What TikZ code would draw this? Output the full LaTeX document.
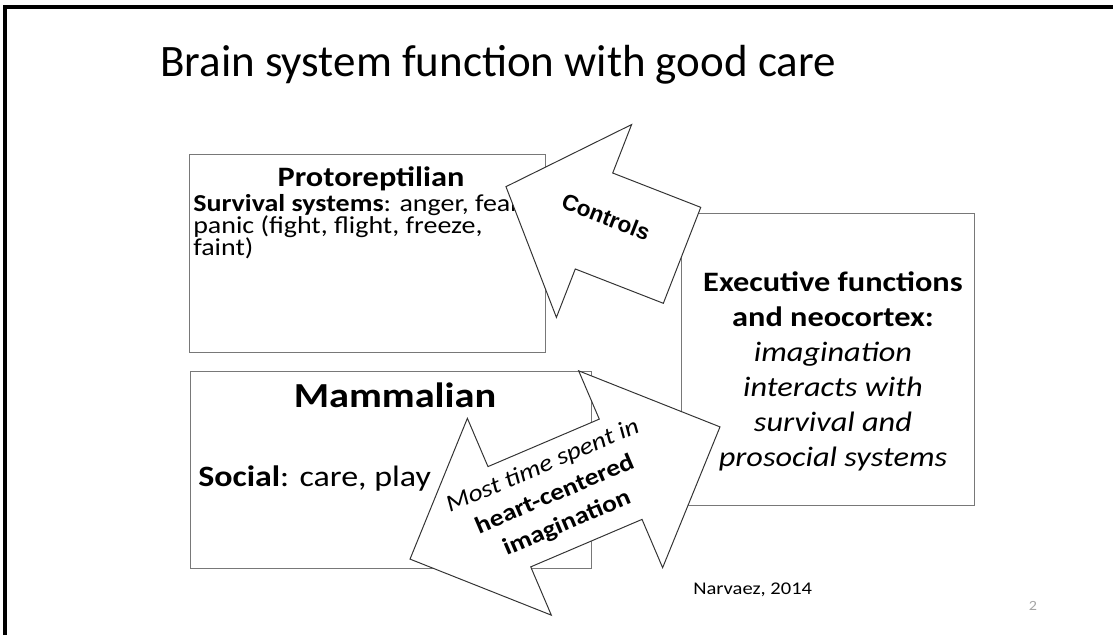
\documentclass[tikz,border=0pt]{standalone}
\usepackage{fontspec}
\setmainfont{Carlito}[FakeStretch=1.15]
\newfontfamily\titlefont{Carlito}
\newfontfamily\ctrlfont{Liberation Sans}
\definecolor{boxgray}{RGB}{120,120,120}
\definecolor{pagegray}{RGB}{165,165,165}

\begin{document}
\begin{tikzpicture}[
  box/.style={draw=boxgray, line width=0.7pt, inner sep=0pt},
  fatarrow/.style={draw=black!80, fill=white, line width=0.7pt, line join=miter},
  txt/.style={inner sep=0pt}]

\useasboundingbox (0,0) rectangle (27.825,15.875);

% ---------- Frame and title ----------
\draw[line width=2.5pt] (0.125,0) -- (0.125,15.7) -- (27.825,15.7);
\node[txt, anchor=base west, font=\titlefont\fontsize{32}{38}\selectfont] (title) at (4.0,13.95)
  {Brain system function with good care};

% ---------- Boxes ----------
\node[box, minimum width=8.9cm, minimum height=4.95cm] (proto) at (9.175,9.55) {};
\node[box, minimum width=10.025cm, minimum height=4.925cm] (mamm) at (9.7625,4.1375) {};
\node[box, minimum width=7.325cm, minimum height=7.3cm] (exec) at (20.6875,6.9) {};

% base anchor of a multi-line node sits on its last line
\node[txt, anchor=base, font=\fontsize{20}{24}\selectfont\bfseries] (protohead) at (9.275,11.2) {Protoreptilian};
\node[txt, anchor=base west, align=left, font=\fontsize{17.3}{16}\selectfont] (survival) at (4.825,9.475)
  {\textbf{Survival systems}: anger, fear,\\ panic (fight, flight, freeze,\\ faint)};

\node[txt, anchor=base, font=\fontsize{25}{30}\selectfont\bfseries] (mammhead) at (9.875,5.675) {Mammalian};
\node[txt, anchor=base west, font=\fontsize{21}{25}\selectfont] (social) at (4.95,3.7)
  {\textbf{Social}: care, play};

\node[txt, anchor=base, align=center, font=\fontsize{20}{24.9}\selectfont] (exectext) at (20.825,4.2)
  {\textbf{Executive functions}\\ \textbf{and neocortex:}\\ \textit{imagination}\\
   \textit{interacts with}\\ \textit{survival and}\\ \textit{prosocial systems}};

% ---------- Controls arrow ----------
\begin{scope}[shift={(14.85,10.35)}, rotate=158.7]
  \draw[fatarrow] (2.3625,0) -- (0,2.5875) -- (0,1.2875) -- (-2.3625,1.2875)
    -- (-2.3625,-1.2875) -- (0,-1.2875) -- (0,-2.5875) -- cycle;
\end{scope}
\node[txt, rotate=-21.3, font=\ctrlfont\fontsize{16}{19}\selectfont\bfseries] (controls) at (15.15,10.45) {Controls};

% ---------- Two-way arrow ----------
\begin{scope}[shift={(14.125,3.55)}, rotate=23.1]
  \draw[fatarrow] (4.2125,0) -- (1.5125,2.675) -- (1.5125,1.3625) -- (-1.5125,1.3625)
    -- (-1.5125,2.675) -- (-4.2125,0) -- (-1.5125,-2.675) -- (-1.5125,-1.3625)
    -- (1.5125,-1.3625) -- (1.5125,-2.675) -- cycle;
\end{scope}
\node[txt, rotate=23.1, align=center, font=\fontsize{17}{22}\selectfont] (hearttext) at (13.875,3.5)
  {\textit{Most time spent in}\\ \textbf{heart-centered}\\ \textbf{imagination}};

% ---------- Footer ----------
\node[txt, anchor=base west, font=\fontsize{12.7}{15}\selectfont] (cite) at (17.325,1.0) {Narvaez, 2014};
\node[txt, text=pagegray, font=\fontsize{10}{12}\selectfont] (pagenum) at (25.825,0.725) {2};

\end{tikzpicture}
\end{document}
